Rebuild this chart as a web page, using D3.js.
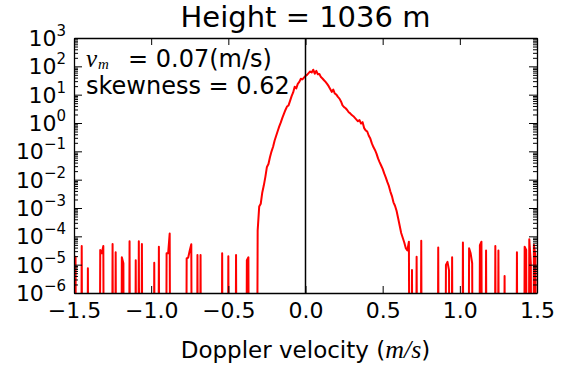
<!DOCTYPE html>
<html>
<head>
<meta charset="utf-8">
<script src="https://cdn.jsdelivr.net/npm/d3@7"></script>
<style>
  body { margin: 0; background: #fff; }
  svg text { font-family: "DejaVu Sans", sans-serif; fill: #000; }
  .axis path, .axis line { stroke: #000; }
  .math { font-family: "Liberation Serif", "DejaVu Serif", serif; font-style: italic; }
</style>
</head>
<body>
<svg id="chart" width="568" height="371"></svg>
<script>
// histogram of doppler velocity, bins of 0.01 m/s (log10 of density)
var coreFrom = -0.31;
var coreLog = [
  -3.80, -2.95, -2.85, -2.45, -2.20, -1.90, -1.55, -1.45, -1.20, -1.00,
  -0.84, -0.62, -0.45, -0.28, -0.12,  0.02,  0.18,  0.32,  0.46,  0.58,
   0.62,  0.78,  0.95,  1.08,  1.28,  1.22,  1.38,  1.45,  1.56,  1.54,
   1.60,  1.66,  1.70,  1.76,  1.82,  1.78,  1.88,  1.74,  1.84,  1.72,
   1.73,  1.62,  1.57,  1.51,  1.45,  1.38,  1.30,  1.20,  1.10,  1.18,
   1.04,  1.00,  0.92,  0.86,  0.76,  0.62,  0.56,  0.52,  0.46,  0.38,
   0.34,  0.28,  0.24,  0.18,  0.12,  0.06,  0.10, -0.02,  0.03, -0.18,
  -0.26, -0.30, -0.45, -0.55, -0.72, -0.85, -0.95, -1.08, -1.25, -1.38,
  -1.50, -1.62, -1.78, -1.92, -2.08, -2.22, -2.42, -2.58, -2.80, -2.92,
  -3.10, -3.35, -3.62, -3.88, -4.05, -4.22, -4.42, -4.50, -4.19
];
// sparse single counts in the tails
var noiseV = [
  -1.50, -1.49, -1.45, -1.41, -1.33, -1.32, -1.31, -1.25, -1.23, -1.19,
  -1.18, -1.14, -1.10, -1.08, -1.06, -0.98, -0.95, -0.90, -0.89, -0.88,
  -0.77, -0.76, -0.75, -0.74, -0.70, -0.68, -0.54, -0.50, -0.45, -0.38,
  -0.37,
   0.69,  0.72,  0.75,  0.86,  0.91,  0.92,  0.93,  0.95,  1.02,  1.06,
   1.07,  1.08,  1.13,  1.14,  1.17,  1.23,  1.25,  1.29,  1.37,  1.42,
   1.43,  1.45,  1.46,  1.48,  1.49
];
var noiseLog = [
  -4.90, -4.72, -4.34, -5.13, -4.48, -4.60, -4.34, -4.27, -4.56, -4.74,
  -4.95, -4.17, -4.84, -4.17, -4.27, -4.93, -4.37, -4.60, -4.60, -3.90,
  -4.78, -4.75, -4.50, -4.28, -4.66, -4.66, -4.60, -4.70, -4.66, -4.84,
  -4.74,
  -5.19, -4.72, -4.16, -4.39, -5.01, -4.90, -5.20, -4.74, -4.22, -4.42,
  -4.60, -4.95, -4.31, -4.19, -4.50, -4.34, -4.50, -5.40, -4.56, -4.37,
  -4.48, -4.10, -4.95, -4.30, -4.70
];
var xTicks = [-1.5, -1.0, -0.5, 0.0, 0.5, 1.0, 1.5];
var yExp = [-6, -5, -4, -3, -2, -1, 0, 1, 2, 3];
var title = "Height = 1036 m";
var vmText = "= 0.07(m/s)";
var skewText = "skewness = 0.62";

var svg = d3.select("#chart"),
    margin = {top: 38, right: 31, bottom: 78, left: 74},
    width = +svg.attr("width") - margin.left - margin.right,
    height = +svg.attr("height") - margin.top - margin.bottom;

var x = d3.scaleLinear().domain([-1.5, 1.5]).range([0, width]),
    y = d3.scaleLog().domain([1e-6, 1e3]).range([height, 0]);

// build full bin series, empty bins are 0
var counts = {};
d3.range(-150, 151).forEach(function(i) { counts[i] = 0; });
coreLog.forEach(function(l, i) { counts[Math.round(coreFrom * 100) + i] = Math.pow(10, l); });
noiseV.forEach(function(v, i) { counts[Math.round(v * 100)] = Math.pow(10, noiseLog[i]); });
var data = d3.range(-150, 151).map(function(i) { return {v: i / 100, d: counts[i]}; });

var g = svg.append("g")
    .attr("transform", "translate(" + margin.left + "," + margin.top + ")");

g.append("clipPath").attr("id", "clip")
  .append("rect").attr("width", width).attr("height", height);

var line = d3.line()
    .x(function(d) { return x(d.v); })
    .y(function(d) { return d.d > 0 ? y(d.d) : height + 400; });

g.append("path")
    .datum(data)
    .attr("clip-path", "url(#clip)")
    .attr("fill", "none")
    .attr("stroke", "#ff0000")
    .attr("stroke-width", 2)
    .attr("stroke-linejoin", "round")
    .attr("d", line);

g.append("line")
    .attr("x1", x(0)).attr("x2", x(0))
    .attr("y1", 0).attr("y2", height)
    .attr("stroke", "#000").attr("stroke-width", 1.5);

// axes, ticks inside on every side
var minors = [];
yExp.slice(0, -1).forEach(function(e) {
  for (var k = 2; k < 10; k++) minors.push(k * Math.pow(10, e));
});
var majors = yExp.map(function(e) { return Math.pow(10, e); });

g.append("g").attr("class", "axis")
    .attr("transform", "translate(0," + height + ")")
    .call(d3.axisBottom(x).tickValues(xTicks).tickSize(-7).tickSizeOuter(0)
      .tickPadding(9).tickFormat(d3.format(".1f")))
    .selectAll("text").attr("font-size", 22).attr("font-family", "DejaVu Sans");

g.append("g").attr("class", "axis")
    .call(d3.axisTop(x).tickValues(xTicks).tickSize(-7).tickSizeOuter(0).tickFormat(""));

[[d3.axisLeft, 0], [d3.axisRight, width]].forEach(function(a) {
  g.append("g").attr("class", "axis")
      .attr("transform", "translate(" + a[1] + ",0)")
      .call(a[0](y).tickValues(majors).tickSize(-8).tickSizeOuter(0).tickFormat(""));
  g.append("g").attr("class", "axis")
      .attr("transform", "translate(" + a[1] + ",0)")
      .call(a[0](y).tickValues(minors).tickSize(-4).tickSizeOuter(0).tickFormat(""))
      .select(".domain").remove();
});
g.selectAll(".axis .domain").attr("stroke-width", 1.3);

// y tick labels 10^n
var yl = g.append("g").selectAll("text")
    .data(yExp).enter().append("text")
    .attr("x", -8)
    .attr("y", function(d) { return y(Math.pow(10, d)) + 8; })
    .attr("text-anchor", "end")
    .attr("font-size", 22);
yl.append("tspan").text("10");
yl.append("tspan")
    .attr("font-size", 15)
    .attr("dy", -10)
    .text(function(d) { return d < 0 ? "\u2212" + (-d) : d; });

// title and labels
svg.append("text")
    .attr("x", margin.left + width / 2).attr("y", 27)
    .attr("text-anchor", "middle").attr("font-size", 29)
    .text(title);

var xl = svg.append("text")
    .attr("x", margin.left + width / 2).attr("y", 358)
    .attr("text-anchor", "middle").attr("font-size", 23);
xl.append("tspan").text("Doppler velocity (");
xl.append("tspan").attr("class", "math").attr("font-size", 26).text("m/s");
xl.append("tspan").text(")");

svg.append("text").attr("class", "math")
    .attr("x", 86).attr("y", 67).attr("font-size", 25).text("v");
svg.append("text").attr("class", "math")
    .attr("x", 98).attr("y", 69).attr("font-size", 15).text("m");
svg.append("text")
    .attr("x", 128).attr("y", 67).attr("font-size", 24)
    .text(vmText);
svg.append("text")
    .attr("x", 86).attr("y", 94).attr("font-size", 24)
    .text(skewText);
</script>
</body>
</html>
